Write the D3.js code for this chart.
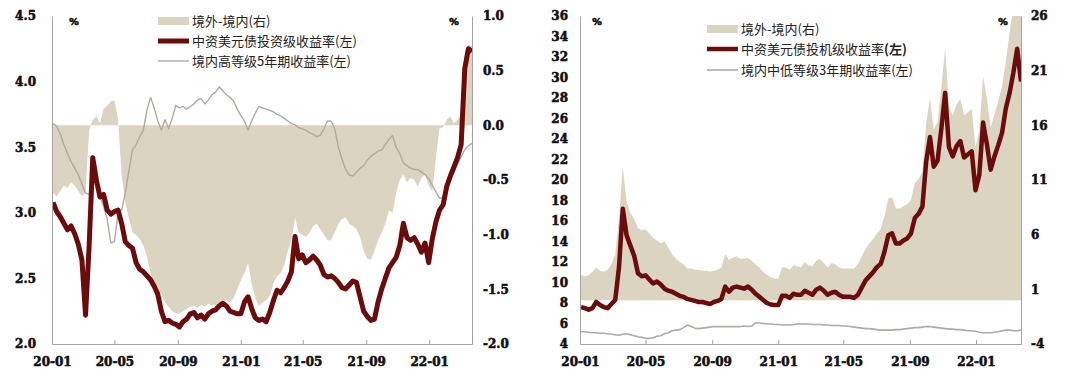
<!DOCTYPE html>
<html><head><meta charset="utf-8">
<script src="https://cdn.jsdelivr.net/npm/d3@7"></script>
<style>body{margin:0;background:#fff;}svg{display:block;}</style>
</head><body>
<svg id="c" width="1080" height="381"></svg>
<script>
// ---------- data ----------
const dates = ["2020-01-03","2020-01-10","2020-01-17","2020-01-24","2020-01-31","2020-02-07","2020-02-14","2020-02-21","2020-02-28","2020-03-06",
"2020-03-13","2020-03-20","2020-03-27","2020-04-03","2020-04-10","2020-04-17","2020-04-24","2020-05-01","2020-05-08","2020-05-15",
"2020-05-22","2020-05-29","2020-06-05","2020-06-12","2020-06-19","2020-06-26","2020-07-03","2020-07-10","2020-07-17","2020-07-24",
"2020-07-31","2020-08-07","2020-08-14","2020-08-21","2020-08-28","2020-09-04","2020-09-11","2020-09-18","2020-09-25","2020-10-02",
"2020-10-09","2020-10-16","2020-10-23","2020-10-30","2020-11-06","2020-11-13","2020-11-20","2020-11-27","2020-12-04","2020-12-11",
"2020-12-18","2020-12-25","2021-01-01","2021-01-08","2021-01-15","2021-01-22","2021-01-29","2021-02-05","2021-02-12","2021-02-19",
"2021-02-26","2021-03-05","2021-03-12","2021-03-19","2021-03-26","2021-04-02","2021-04-09","2021-04-16","2021-04-23","2021-04-30",
"2021-05-07","2021-05-14","2021-05-21","2021-05-28","2021-06-04","2021-06-11","2021-06-18","2021-06-25","2021-07-02","2021-07-09",
"2021-07-16","2021-07-23","2021-07-30","2021-08-06","2021-08-13","2021-08-20","2021-08-27","2021-09-03","2021-09-10","2021-09-17",
"2021-09-24","2021-10-01","2021-10-08","2021-10-15","2021-10-22","2021-10-29","2021-11-05","2021-11-12","2021-11-19","2021-11-26",
"2021-12-03","2021-12-10","2021-12-17","2021-12-24","2021-12-31","2022-01-07","2022-01-14","2022-01-21","2022-01-28","2022-02-04",
"2022-02-11","2022-02-18","2022-02-25","2022-03-04","2022-03-11","2022-03-18","2022-03-25"];

// Left panel: investment grade
const igYield = [3.08,3.01,2.97,2.92,2.87,2.90,2.84,2.76,2.64,2.22,2.75,3.42,3.25,3.12,3.14,3.02,2.99,3.01,3.02,2.92,
2.78,2.75,2.73,2.62,2.57,2.55,2.52,2.49,2.44,2.38,2.25,2.17,2.18,2.16,2.15,2.13,2.17,2.19,2.23,2.24,
2.20,2.22,2.19,2.23,2.25,2.26,2.29,2.31,2.29,2.25,2.24,2.23,2.23,2.32,2.36,2.27,2.20,2.18,2.19,2.17,
2.24,2.33,2.41,2.39,2.43,2.48,2.55,2.82,2.65,2.68,2.62,2.64,2.67,2.64,2.60,2.53,2.51,2.52,2.50,2.47,
2.43,2.42,2.45,2.48,2.47,2.36,2.25,2.21,2.18,2.19,2.32,2.42,2.50,2.58,2.62,2.66,2.75,2.92,2.81,2.79,
2.81,2.76,2.70,2.77,2.62,2.80,2.93,3.02,3.06,3.20,3.28,3.35,3.42,3.52,4.10,4.25,4.23];
const highGrade5y = [3.68,3.66,3.60,3.52,3.45,3.39,3.34,3.29,3.22,3.15,3.14,3.28,3.22,3.12,3.05,2.95,2.77,2.78,3.00,3.02,
3.15,3.32,3.48,3.52,3.58,3.63,3.78,3.88,3.80,3.70,3.63,3.71,3.64,3.72,3.82,3.80,3.81,3.79,3.81,3.83,
3.86,3.87,3.83,3.86,3.90,3.92,3.96,3.93,3.90,3.88,3.85,3.79,3.74,3.70,3.63,3.70,3.76,3.81,3.80,3.79,
3.78,3.77,3.75,3.74,3.72,3.70,3.68,3.67,3.65,3.64,3.63,3.61,3.60,3.58,3.59,3.64,3.70,3.70,3.64,3.50,
3.41,3.33,3.29,3.28,3.31,3.34,3.36,3.40,3.43,3.45,3.47,3.48,3.52,3.56,3.59,3.50,3.45,3.38,3.36,3.34,
3.33,3.33,3.31,3.29,3.26,3.21,3.16,3.11,3.12,3.18,3.27,3.31,3.37,3.43,3.48,3.51,3.53];
const igSpread = [-0.62,-0.65,-0.60,-0.55,-0.57,-0.52,-0.55,-0.60,-0.65,-0.60,-0.05,0.05,0.08,0.02,0.15,0.18,0.22,0.23,0.05,-0.45,
-0.70,-0.85,-0.98,-1.00,-1.04,-1.10,-1.20,-1.35,-1.45,-1.50,-1.55,-1.62,-1.66,-1.70,-1.72,-1.72,-1.70,-1.68,-1.66,-1.65,
-1.67,-1.64,-1.66,-1.63,-1.65,-1.64,-1.66,-1.62,-1.60,-1.62,-1.58,-1.50,-1.42,-1.35,-1.26,-1.45,-1.58,-1.65,-1.62,-1.60,
-1.56,-1.45,-1.38,-1.35,-1.28,-1.15,-1.05,-0.84,-0.98,-1.00,-1.02,-0.98,-0.92,-0.90,-0.95,-1.00,-1.05,-1.05,-0.98,-0.90,
-0.86,-0.84,-0.90,-0.92,-0.95,-1.02,-1.15,-1.22,-1.23,-1.15,-1.05,-0.98,-0.90,-0.78,-0.80,-0.62,-0.50,-0.45,-0.52,-0.48,
-0.50,-0.56,-0.48,-0.45,-0.55,-0.60,-0.30,-0.03,-0.02,0.05,0.08,0.02,0.05,0.10,0.62,0.74,0.72];

// Right panel: high yield
const hyYield = [7.6,7.5,7.35,7.5,8.1,7.8,7.6,7.5,7.9,8.3,11.5,17.2,14.6,13.6,12.6,10.9,10.6,10.7,10.3,9.9,
10.1,9.8,9.4,9.2,9.1,8.9,8.7,8.6,8.4,8.3,8.2,8.1,8.1,8.0,7.9,8.1,8.2,8.4,9.6,9.1,
9.5,9.6,9.5,9.4,9.6,9.3,8.9,8.6,8.3,8.0,7.85,7.8,7.8,8.7,8.7,8.5,8.9,8.8,8.8,9.2,
9.0,8.8,9.3,9.5,9.2,8.8,9.0,9.1,8.8,8.6,8.6,8.6,8.5,8.8,9.5,10.2,10.6,11.0,11.5,11.8,
13.0,14.6,14.8,13.8,13.8,14.1,14.3,14.8,16.3,16.7,17.4,21.8,24.2,21.3,21.9,25.0,28.5,23.2,22.3,23.3,
23.8,22.2,22.5,22.8,19.0,20.5,25.6,23.5,21.0,22.3,23.4,24.6,27.0,28.5,30.5,32.8,29.6];
const lowGrade3y = [5.2,5.2,5.15,5.1,5.1,5.05,5.05,5.0,4.95,4.9,4.85,4.95,5.0,4.9,4.8,4.7,4.65,4.55,4.55,4.6,
4.75,4.8,5.0,5.1,5.3,5.35,5.4,5.6,5.85,5.7,5.55,5.5,5.55,5.6,5.65,5.7,5.7,5.7,5.7,5.7,
5.7,5.7,5.7,5.75,5.7,5.75,6.05,6.05,6.0,5.95,5.95,5.9,5.9,5.85,5.85,5.85,5.9,5.95,5.95,5.95,
5.95,5.9,5.9,5.9,5.85,5.85,5.8,5.8,5.8,5.75,5.75,5.7,5.65,5.6,5.55,5.5,5.5,5.45,5.4,5.35,
5.35,5.35,5.35,5.4,5.4,5.45,5.5,5.55,5.6,5.6,5.65,5.7,5.7,5.65,5.6,5.55,5.5,5.45,5.45,5.4,
5.4,5.35,5.3,5.3,5.25,5.15,5.1,5.1,5.1,5.15,5.2,5.3,5.35,5.35,5.3,5.3,5.35];
const hySpread = [2.3,2.2,2.3,2.6,3.0,2.7,2.6,2.8,3.3,4.2,7.5,12.2,9.0,8.0,7.4,6.6,6.4,6.5,6.1,5.7,
5.5,5.2,5.4,4.8,4.2,3.8,3.5,3.3,2.9,2.9,2.8,2.8,2.7,2.7,2.6,2.7,2.8,3.0,4.2,3.7,
3.9,4.0,3.8,3.8,3.9,3.6,3.3,3.0,2.6,2.3,2.1,2.0,2.0,3.0,3.0,2.8,3.2,3.1,3.0,3.5,
3.2,3.1,3.6,3.8,3.4,3.0,3.4,3.3,3.0,2.9,2.9,2.9,2.9,3.3,4.0,4.7,5.2,5.6,6.1,6.5,
7.7,9.3,9.4,8.4,8.4,8.6,8.8,9.2,10.7,11.1,11.8,16.2,18.5,15.6,16.3,19.5,23.0,17.8,16.9,17.9,
18.4,16.9,17.2,17.5,14.0,15.5,20.5,18.5,15.8,17.0,18.2,19.6,21.8,24.5,27.0,27.5,26.5];

const xDomain = ["2020-01-01","2022-03-25"];
const xTicks = ["2020-01-01","2020-05-01","2020-09-01","2021-01-01","2021-05-01","2021-09-01","2022-01-01"];
const leftLTicks = [2.0,2.5,3.0,3.5,4.0,4.5];
const leftRTicks = [-2.0,-1.5,-1.0,-0.5,0.0,0.5,1.0];
const rightLTicks = [4,6,8,10,12,14,16,18,20,22,24,26,28,30,32,34,36];
const rightRTicks = [-4,1,6,11,16,21,26];
const legendLeft = ["境外-境内(右)","中资美元债投资级收益率(左)","境内高等级5年期收益率(左)"];
const legendRight = ["境外-境内(右)","中资美元债投机级收益率","境内中低等级3年期收益率(左)"];

// ---------- drawing ----------
const parse = d3.timeParse("%Y-%m-%d");
const svg = d3.select("#c");
const AREA = "#dad4c0", RED = "#6b0c0c", GRAY = "#aeab9f", AXIS = "#a3a3a3";
const NUMF = "'DejaVu Serif','Liberation Serif',serif";
const CJKF = "'Noto Sans CJK SC','Noto Sans',sans-serif";

function boldNum(sel, size){
  sel.attr("font-family", NUMF).attr("font-weight", "bold").attr("font-size", size)
     .attr("fill", "#111").attr("stroke", "#111").attr("stroke-width", 0.55);
}
function styleAxis(sel){
  sel.select(".domain").attr("stroke", AXIS).attr("stroke-width", 1);
  sel.selectAll(".tick line").attr("stroke", AXIS);
  sel.selectAll("text").call(boldNum, 12);
}

function panel(c){
  const g = svg.append("g");
  const x = d3.scaleTime().domain(xDomain.map(parse)).range([c.left, c.right]);
  const yL = d3.scaleLinear().domain(c.lDom).range([c.bottom, c.top]);
  const yR = d3.scaleLinear().domain(c.rDom).range([c.bottom, c.top]);
  const pts = dates.map((d,i)=>({date: parse(d), s: c.spread[i], a: c.main[i], b: c.dom[i]}));

  g.append("clipPath").attr("id", c.id).append("rect")
    .attr("x", c.left).attr("y", c.top).attr("width", c.right-c.left).attr("height", c.bottom-c.top);
  const p = g.append("g").attr("clip-path", `url(#${c.id})`);
  p.append("path").datum(pts).attr("fill", AREA)
    .attr("d", d3.area().x(d=>x(d.date)).y0(yR(0)).y1(d=>yR(d.s)));
  p.append("path").datum(pts).attr("fill","none").attr("stroke", GRAY).attr("stroke-width", c.grayW)
    .attr("stroke-linejoin","round").attr("d", d3.line().x(d=>x(d.date)).y(d=>yL(d.b)));
  p.append("path").datum(pts).attr("fill","none").attr("stroke", RED).attr("stroke-width", c.redW)
    .attr("stroke-linejoin","round").attr("d", d3.line().x(d=>x(d.date)).y(d=>yL(d.a)));

  g.append("g").attr("transform", `translate(${c.left},0)`)
    .call(d3.axisLeft(yL).tickValues(c.lTicks).tickFormat(c.lFmt).tickSize(0).tickPadding(c.lPad)).call(styleAxis);
  g.append("g").attr("transform", `translate(${c.right},0)`)
    .call(d3.axisRight(yR).tickValues(c.rTicks).tickFormat(c.rFmt).tickSize(0).tickPadding(c.rPad)).call(styleAxis);
  g.append("g").attr("transform", `translate(0,${c.bottom})`)
    .call(d3.axisBottom(x).tickValues(xTicks.map(parse)).tickFormat(d3.timeFormat("%y-%m"))
      .tickSizeInner(-4).tickSizeOuter(0).tickPadding(13)).call(styleAxis);

  // percent marks
  [c.pct1, c.pct2].forEach(px => g.append("text").attr("x", px).attr("y", 25).attr("text-anchor","middle")
    .call(boldNum, 10).text("%"));

  // legend
  const L = g.append("g");
  c.legend.forEach((t,i)=>{
    const cy = c.legY[i];
    if(i===0) L.append("rect").attr("x", c.legX).attr("y", cy-4).attr("width", c.legW).attr("height", 8).attr("fill", AREA);
    else L.append("line").attr("x1", c.legX).attr("x2", c.legX + c.legW).attr("y1", cy).attr("y2", cy)
      .attr("stroke", i===1 ? RED : GRAY).attr("stroke-width", i===1 ? c.redW : c.grayW);
    const tx = L.append("text").attr("x", c.legX + c.legW + 3).attr("y", cy).attr("dy","0.36em")
      .attr("font-family", CJKF).attr("font-size", 13).attr("fill","#222").text(t);
    if(i===1 && c.boldTail) tx.append("tspan").attr("font-weight","bold").text("(左)");
  });
}

panel({id:"clipL", left:52, right:472, top:16, bottom:344, lDom:[2,4.5], rDom:[-2,1],
  main: igYield, dom: highGrade5y, spread: igSpread,
  lTicks: leftLTicks, rTicks: leftRTicks, lFmt: d=>d.toFixed(1), rFmt: d=>d.toFixed(1),
  lPad: 16, rPad: 11, redW: 5, grayW: 1.4, pct1: 74, pct2: 454,
  legend: legendLeft, legX: 158, legW: 31, legY: [21,41,61], boldTail:false});

panel({id:"clipR", left:580, right:1021, top:16, bottom:344, lDom:[4,36], rDom:[-4,26],
  main: hyYield, dom: lowGrade3y, spread: hySpread,
  lTicks: rightLTicks, rTicks: rightRTicks, lFmt: d=>String(d), rFmt: d=>String(d),
  lPad: 12, rPad: 10, redW: 4.5, grayW: 1.6, pct1: 597, pct2: 1003,
  legend: legendRight, legX: 707, legW: 31, legY: [29,49,70], boldTail:true});
</script>
</body></html>
